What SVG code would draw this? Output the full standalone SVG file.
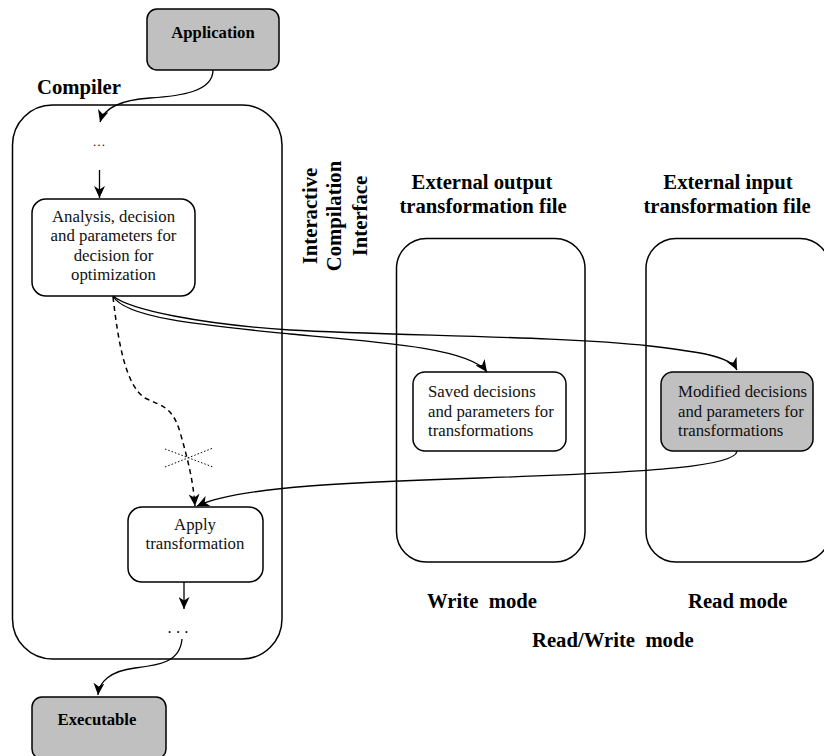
<svg xmlns="http://www.w3.org/2000/svg" width="824" height="756" viewBox="0 0 824 756">
<style>
.box{fill:#fff;stroke:#000;stroke-width:1.5}
.gray{fill:#c0c0c0;stroke:#000;stroke-width:1.5}
.frame{fill:none;stroke:#000;stroke-width:1.5}
text{font-family:'Liberation Serif','DejaVu Serif',serif}
.t{font-size:16.8px;fill:#111}
.b{font-weight:bold;font-size:20.7px;fill:#000}
.bs{font-weight:bold;font-size:16.7px;fill:#000}
.m{text-anchor:middle}
.c{fill:none;stroke:#000;stroke-width:1.3}
.dash{fill:none;stroke:#000;stroke-width:1.5;stroke-dasharray:5 4}
.dot{fill:none;stroke:#000;stroke-width:1;stroke-dasharray:1.5 2}
</style>
<defs>
<marker id="ah" markerUnits="userSpaceOnUse" markerWidth="13" markerHeight="11" refX="12" refY="5.5" orient="auto">
<path d="M0,0 L12,5.5 L0,11 L3.5,5.5 Z" fill="#000"/>
</marker>
</defs>

<g id="compiler">
<rect class="frame" x="12.5" y="105" width="269.5" height="554" rx="40"/>
<text class="b" x="37" y="94" font-family="Liberation Serif, serif">Compiler</text>
</g>

<g id="output-file">
<rect class="frame" x="396.5" y="238.5" width="188.5" height="323.5" rx="30"/>
<text class="b m" x="482" y="189">External output</text>
<text class="b m" x="483" y="213">transformation file</text>
<text class="b" x="427" y="608" xml:space="preserve">Write  mode</text>
</g>

<g id="input-file">
<rect class="frame" x="646" y="238.5" width="184" height="323.5" rx="30"/>
<text class="b m" x="728" y="189">External input</text>
<text class="b m" x="727" y="213">transformation file</text>
<text class="b" x="688" y="608">Read mode</text>
</g>

<g id="rw-label">
<text class="b" x="532" y="647" xml:space="preserve">Read/Write  mode</text>
</g>

<g id="ici">
<text class="b m" transform="translate(317,216) rotate(-90)">Interactive</text>
<text class="b m" transform="translate(341,216) rotate(-90)">Compilation</text>
<text class="b m" transform="translate(367,216) rotate(-90)">Interface</text>
</g>

<g id="application">
<rect class="gray" x="147" y="9" width="132" height="61" rx="10"/>
<text class="bs m" x="213" y="37.5">Application</text>
</g>

<g id="dots-top">
<text class="t m" x="99" y="146" style="font-size:13px">…</text>
</g>

<g id="analysis">
<rect class="box" x="32" y="199" width="163" height="97" rx="14"/>
<text class="t m" x="113.5" y="222">Analysis, decision</text>
<text class="t m" x="113.5" y="241.3">and parameters for</text>
<text class="t m" x="113.5" y="260.6">decision for</text>
<text class="t m" x="113.5" y="280">optimization</text>
</g>

<g id="apply">
<rect class="box" x="128" y="507" width="135" height="75" rx="14"/>
<text class="t m" x="195" y="530">Apply</text>
<text class="t m" x="195" y="548.5">transformation</text>
</g>

<g id="dots-bottom">
<text class="t m" x="178" y="633">. . .</text>
</g>

<g id="executable">
<rect class="gray" x="32" y="697" width="134" height="62" rx="10"/>
<text class="bs m" x="97" y="725">Executable</text>
</g>

<g id="saved">
<rect class="box" x="413" y="372" width="153" height="79" rx="12"/>
<text class="t" x="428" y="397">Saved decisions</text>
<text class="t" x="428" y="416.5">and parameters for</text>
<text class="t" x="428" y="436">transformations</text>
</g>

<g id="modified">
<rect class="gray" x="661" y="372" width="152" height="79" rx="12"/>
<text class="t" x="678" y="397">Modified decisions</text>
<text class="t" x="678" y="416.5">and parameters for</text>
<text class="t" x="678" y="436">transformations</text>
</g>

<g id="connectors">
<path class="c" d="M213,70 C213,92 180,96 150,98 C120,100 104,108 100,122" marker-end="url(#ah)"/>
<path class="c" d="M99.5,170 L99.5,198" marker-end="url(#ah)"/>
<path class="c" d="M113,296 C130,310 200,324 290,330 C400,336 560,336 650,346 C700,352 730,356 737,370" marker-end="url(#ah)"/>
<path class="c" d="M113,296 C125,318 200,325 290,334 C380,342 470,348 487,372" marker-end="url(#ah)"/>
<path class="dash" d="M113,297 C118,340 125,385 145,398 C160,406 172,405 180,432 C188,460 193,480 195,506" marker-end="url(#ah)"/>
<path class="c" d="M737,451 C736,466 660,472 480,478 C360,482 240,486 197,506" marker-end="url(#ah)"/>
<path class="c" d="M184,582 L184,609" marker-end="url(#ah)"/>
<path class="c" d="M182,639 C180,662 160,665 135,668 C110,671 99,682 98,695" marker-end="url(#ah)"/>
<path class="dot" d="M165,449 L213,467 M165,467 L213,448"/>
</g>
</svg>
